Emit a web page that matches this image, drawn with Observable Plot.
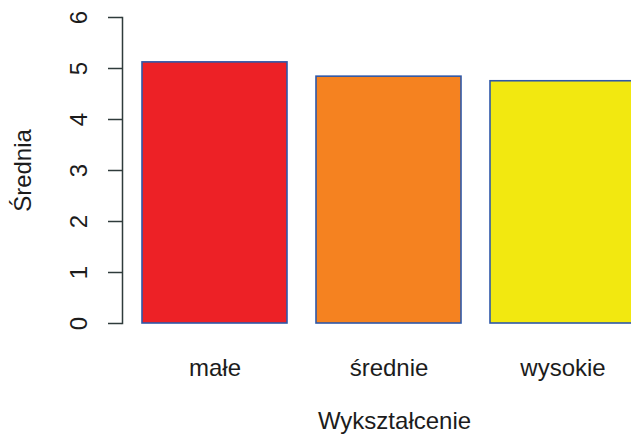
<!DOCTYPE html>
<html>
<head>
<meta charset="utf-8">
<script src="https://cdn.jsdelivr.net/npm/d3@7"></script>
<script src="https://cdn.jsdelivr.net/npm/@observablehq/plot@0.6"></script>
<style>
  html, body { margin: 0; padding: 0; background: #fff; overflow: hidden; }
  svg { display: block; }
</style>
</head>
<body>
<div id="chart"></div>
<script>
const categories = ["małe", "średnie", "wysokie"];
const values = [5.12, 4.84, 4.75];
const colors = ["#ED2126", "#F58220", "#F2E810"];
const yTicks = [0, 1, 2, 3, 4, 5, 6];
const xTitle = "Wykształcenie";
const yTitle = "Średnia";

const data = categories.map((c, i) => ({ cat: c, value: values[i], color: colors[i] }));

const chart = Plot.plot({
  width: 631,
  height: 437,
  marginLeft: 122,
  marginRight: 0,
  marginTop: 17,
  marginBottom: 114,
  style: { fontFamily: "Liberation Sans, Arial, sans-serif", fontSize: "24px", color: "#1c1c1c", background: "#fff" },
  x: { domain: categories, range: [142, 637], paddingInner: 0.1667, paddingOuter: 0, align: 0 },
  y: { domain: [0, 6] },
  marks: [
    Plot.barY(data, { x: "cat", y: "value", fill: "color", stroke: "#2F58A8", strokeWidth: 1.6 }),
    Plot.frame({ anchor: "left", stroke: "#2f3b3b", strokeWidth: 1.5 }),
    Plot.axisY(yTicks, {
      anchor: "left", tickSize: 14, tickPadding: 22, tickRotate: -90,
      tickFormat: d => String(d),
      stroke: "#2f3b3b", strokeWidth: 1.5, fontSize: 24, label: null
    }),
    Plot.axisX({
      anchor: "bottom", tickSize: 0, tickPadding: 35, fontSize: 24, label: null
    }),
    Plot.text([xTitle], {
      text: d => d, frameAnchor: "bottom", dx: 17.5, dy: 98,
      fontSize: 24, textAnchor: "middle", lineAnchor: "middle", fill: "#1c1c1c"
    }),
    Plot.text([yTitle], {
      text: d => d, frameAnchor: "left", dx: -99, rotate: -90,
      fontSize: 24, textAnchor: "middle", lineAnchor: "middle", fill: "#1c1c1c"
    })
  ]
});
document.getElementById("chart").appendChild(chart);
</script>
</body>
</html>
